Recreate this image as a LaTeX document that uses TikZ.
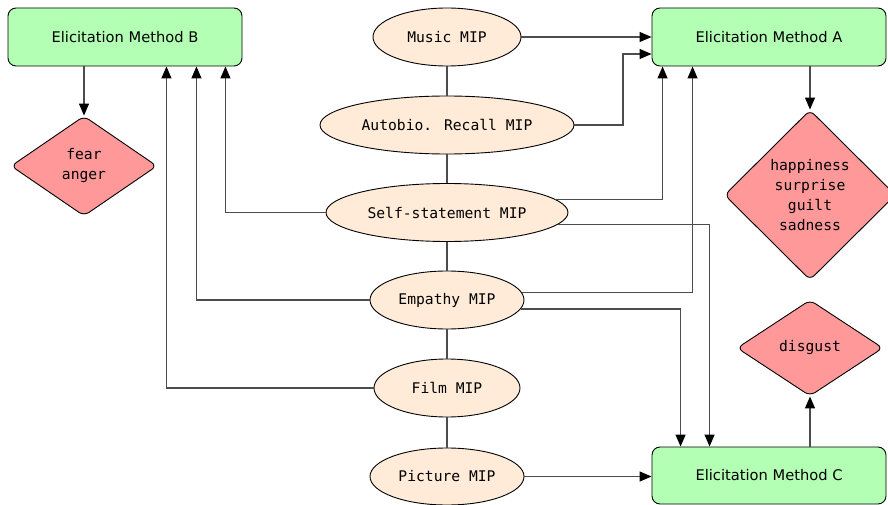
\documentclass[tikz,border=0pt]{standalone}
\usepackage{fontspec}
\setmainfont{DejaVu Sans}
\newfontfamily\monof{DejaVu Sans Mono}
\usetikzlibrary{shapes.geometric,arrows.meta}
\definecolor{methodgreen}{RGB}{179,255,179}
\definecolor{mipbeige}{RGB}{255,235,215}
\definecolor{emored}{RGB}{255,153,153}
\begin{document}
\begin{tikzpicture}[x=1pt,y=-1pt,
 method/.style={draw=black, fill=methodgreen, rounded corners=8pt, minimum width=234pt, minimum height=58pt, inner sep=0pt, font=\fontsize{14.67}{18}\selectfont, line width=0.9pt},
 mip/.style={ellipse, draw=black, fill=mipbeige, inner sep=0pt, minimum height=58pt, font=\monof\fontsize{14.67}{18}\selectfont, line width=0.9pt},
 emo/.style={diamond, draw=black, fill=emored, rounded corners=6pt, inner sep=0pt, align=center, font=\monof\fontsize{14.67}{20}\selectfont, line width=0.9pt},
 conn/.style={draw=black!70, line width=1.2pt, -{Triangle[length=12pt,width=10pt,black]}},
 link/.style={draw=black!70, line width=1.2pt}
]
\useasboundingbox (0,0) rectangle (888,505);

\node[method] (B) at (125,37) {Elicitation Method B};
\node[method] (A) at (769,37) {Elicitation Method A};
\node[method, minimum height=57pt] (C) at (769,475.5) {Elicitation Method C};

\node[mip, minimum width=148pt] (music) at (447,37) {Music MIP};
\node[mip, minimum width=254pt] (autobio) at (447,125) {Autobio. Recall MIP};
\node[mip, minimum width=242pt] (self) at (447,212.5) {Self-statement MIP};
\node[mip, minimum width=154pt] (emp) at (447,300) {Empathy MIP};
\node[mip, minimum width=146pt] (film) at (447,388) {Film MIP};
\node[mip, minimum width=154pt, minimum height=57pt] (pic) at (447,476.5) {Picture MIP};

\node[emo, minimum width=146pt, minimum height=100pt] (fear) at (84,166) {fear\\anger};
\node[emo, minimum width=171pt, minimum height=170pt] (happy) at (810,195) {happiness\\surprise\\guilt\\sadness};
\node[emo, minimum width=146pt, minimum height=96pt] (disgust) at (810,348) {disgust};

% chain of MIPs
\draw[link] (music) -- (autobio);
\draw[link] (autobio) -- (self);
\draw[link] (self) -- (emp);
\draw[link] (emp) -- (film);
\draw[link] (film) -- (pic);

% to A
\draw[conn] (music.east) -- (music.east -| A.west);
\draw[conn] (autobio.east) -- ++(48.5,0) |- ([yshift=-17pt]A.west);
\draw[conn] (self.7.7) -| ([xshift=11pt]A.south west);
\draw[conn] (emp.6.4) -| ([xshift=41pt]A.south west);

% to C
\draw[conn] (self.-6.5) -| ([xshift=58pt]C.north west);
\draw[conn] (emp.-7.9) -| ([xshift=29pt]C.north west);
\draw[conn] (pic.east) -- (pic.east -| C.west);

% to B
\draw[conn] (self.west) -| ([xshift=-17pt]B.south east);
\draw[conn] (emp.west) -| ([xshift=-46pt]B.south east);
\draw[conn] (film.west) -| ([xshift=-76pt]B.south east);

% methods to emotions
\draw[conn] (fear.north |- B.south) -- (fear.north);
\draw[conn] (happy.north |- A.south) -- (happy.north);
\draw[conn] (disgust.south |- C.north) -- (disgust.south);
\end{tikzpicture}
\end{document}
